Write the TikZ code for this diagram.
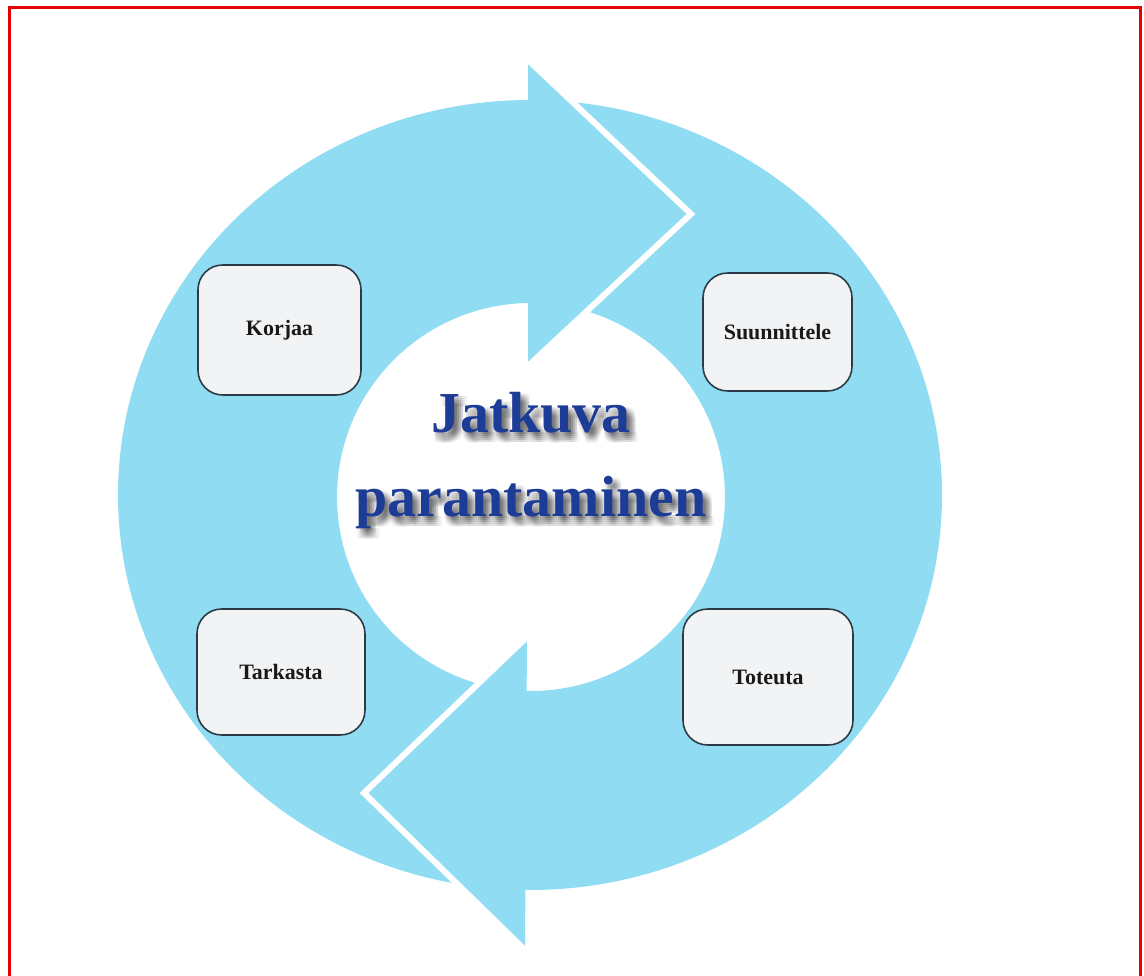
\documentclass[tikz,border=0pt]{standalone}
\usepackage{fontspec}
\setmainfont{Liberation Serif}
\usetikzlibrary{positioning}
\definecolor{cring}{HTML}{90DCF2}
\definecolor{cbox}{HTML}{F2F3F4}
\definecolor{cedge}{HTML}{2B3A44}
\definecolor{ctitle}{HTML}{1D3C96}
\definecolor{cframe}{HTML}{E60000}
\tikzset{
  ring/.style={fill=cring},
  gap/.style={draw=white, line width=3.4pt, line join=miter},
  stage/.style={draw=cedge, fill=cbox, rounded corners=14pt, line width=0.9pt, inner sep=0pt,
    font=\bfseries\fontsize{12.5}{15}\selectfont, text=black!90},
  title/.style={font=\bfseries\fontsize{33}{40}\selectfont, text=ctitle, anchor=base},
  haze/.style={title, text=black, opacity=0.035},
}

\begin{document}
\begin{tikzpicture}[x=0.02cm, y=-0.02cm]
  \useasboundingbox (0,0) rectangle (1144,976);
  \draw[cframe, line width=1.8pt] (9.5,990) -- (9.5,7.5) -- (1140.5,7.5) -- (1140.5,990);

  % ring with hole
  \fill[ring, even odd rule] (530,495) ellipse [x radius=412, y radius=395]
    (531,497) circle [radius=194];

  % arrow heads, top one points right, bottom one left
  \coordinate (topback) at (528,60);
  \coordinate (toptip) at (691,214);
  \coordinate (topfoot) at (528,366);
  \fill[ring] (topback) -- (toptip) -- (topfoot) -- cycle;
  \draw[gap] (topback) -- (toptip) -- (topfoot);

  \coordinate (botback) at (527,637);
  \coordinate (bottip) at (364,793);
  \coordinate (botfoot) at (525,950);
  \fill[ring] (botback) -- (bottip) -- (botfoot) -- cycle;
  \draw[gap] (botback) -- (bottip) -- (botfoot);

  % the four steps
  \node[stage, minimum width=3.26cm, minimum height=2.6cm] (korjaa) at (279.5,330) {Korjaa};
  \node[stage, minimum width=2.98cm, minimum height=2.36cm] (suunnittele) at (777.5,332) {Suunnittele};
  \node[stage, minimum width=3.36cm, minimum height=2.52cm] (tarkasta) at (281,672) {Tarkasta};
  \node[stage, minimum width=3.4cm, minimum height=2.72cm] (toteuta) at (768,677) {Toteuta};

  % centre title with soft shadow
  \foreach \dx in {1,3,5,7,9} \foreach \dy in {2,4,6,8,10} {
    \node[haze] (hazeA\dx\dy) at (531+\dx,433+\dy) {Jatkuva};
    \node[haze] (hazeB\dx\dy) at (531+\dx,517+\dy) {parantaminen};
  }
  \node[title] (line1) at (531,433) {Jatkuva};
  \node[title] (line2) at (531,517) {parantaminen};
\end{tikzpicture}
\end{document}
